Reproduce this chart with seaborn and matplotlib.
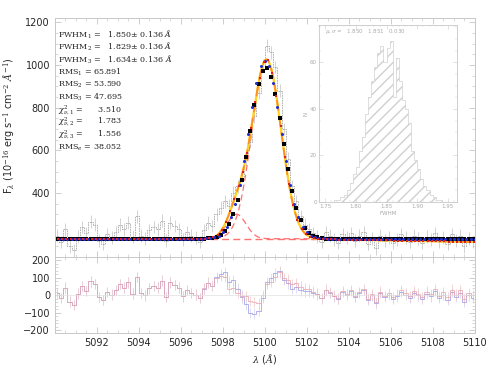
import numpy as np
import pandas as pd
import matplotlib
matplotlib.use("Agg")
import matplotlib.pyplot as plt
import seaborn as sns

# ---------------- data ----------------
wave_start = 5090.1
wave_step = 0.2
flux = [200, 170, 230, 150, 130, 195, 240, 210, 265, 250,
        175, 160, 205, 190, 215, 250, 230, 260, 195, 290,
        200, 185, 225, 240, 230, 270, 175, 260, 245, 230,
        180, 215, 200, 190, 170, 225, 260, 245, 300, 330,
        360, 340, 400, 430, 480, 560, 640, 760, 870, 1000,
        1090, 1060, 990, 880, 700, 560, 430, 360, 290, 250,
        230, 210, 195, 170, 215, 200, 180, 165, 205, 190,
        210, 175, 200, 215, 160, 185, 140, 200, 175, 190,
        165, 180, 205, 190, 170, 200, 185, 165, 195, 180,
        210, 170, 190, 160, 205, 175, 200, 150, 185, 170]
flux_err = [30] * len(flux)

# fit parameters (continuum, amplitude, centre, sigma)
fit1 = dict(cont=185, amp=800, cen=5100.05, sig=0.786)   # black squares
fit2 = dict(cont=185, amp=835, cen=5100.00, sig=0.777)   # blue
fit3_main = dict(cont=185, amp=840, cen=5100.08, sig=0.694)  # orange / yellow
fit3_blue_comp = dict(amp=115, cen=5098.65, sig=0.45)
fit3_slope = -1.8

hist_left = [1.750, 1.755, 1.760, 1.765, 1.770, 1.775, 1.780, 1.785, 1.790, 1.795,
             1.800, 1.805, 1.810, 1.815, 1.820, 1.825, 1.830, 1.835, 1.840, 1.845,
             1.850, 1.855, 1.860, 1.865, 1.870, 1.875, 1.880, 1.885, 1.890, 1.895,
             1.900, 1.905, 1.910, 1.915, 1.920, 1.925, 1.930, 1.935, 1.940, 1.945]
hist_counts = [0, 0, 0, 1, 1, 2, 3, 5, 8, 12,
               15, 22, 28, 38, 45, 52, 58, 64, 67, 60,
               66, 69, 45, 62, 52, 44, 40, 34, 22, 18,
               14, 10, 7, 5, 3, 2, 1, 1, 0, 0]

labels = [r"FWHM$_1$ =   1.850$\pm$ 0.136 $\AA$",
          r"FWHM$_2$ =   1.829$\pm$ 0.136 $\AA$",
          r"FWHM$_3$ =   1.634$\pm$ 0.136 $\AA$",
          r"RMS$_1$ = 65.891",
          r"RMS$_2$ = 53.590",
          r"RMS$_3$ = 47.695",
          r"$\chi^2_{\nu,1}$ =      3.510",
          r"$\chi^2_{\nu,2}$ =      1.783",
          r"$\chi^2_{\nu,3}$ =      1.556",
          r"RMS$_e$ = 38.052"]

# ---------------- build ----------------
wave = wave_start + wave_step * np.arange(len(flux))
flux = np.array(flux, float)
xf = np.linspace(5090, 5110, 400)

def g(x, p):
    return p["amp"] * np.exp(-0.5 * ((x - p["cen"]) / p["sig"]) ** 2)

def model1(x): return fit1["cont"] + g(x, fit1)
def model2(x): return fit2["cont"] + g(x, fit2)
def cont3(x): return fit3_main["cont"] + fit3_slope * np.clip(x - 5101.5, 0, None)
def model3(x): return cont3(x) + g(x, fit3_main) + g(x, fit3_blue_comp)

sns.set_style("ticks")
plt.rcParams["font.family"] = ["DejaVu Sans"]
plt.rcParams["mathtext.fontset"] = "dejavuserif"

fig = plt.figure(figsize=(4.9, 3.68), dpi=100)
ax = fig.add_axes([0.112, 0.302, 0.857, 0.649])
axr = fig.add_axes([0.112, 0.095, 0.857, 0.207], sharex=ax)
axi = fig.add_axes([0.651, 0.451, 0.282, 0.481])

# data
ax.errorbar(wave, flux, yerr=flux_err, fmt="none", ecolor="#c0c0c0", elinewidth=0.5, capsize=0)
sns.lineplot(x=wave, y=flux, ax=ax, color="#a8a8a8", lw=0.6, drawstyle="steps-mid", linestyle=(0, (2, 1)))

# red dashed components
ax.axhline(fit3_main["cont"], color="#ff7070", lw=1.0, ls=(0, (5, 3)))
sns.lineplot(x=xf, y=fit3_main["cont"] + g(xf, fit3_blue_comp), ax=ax, color="#ff7070", lw=0.9, linestyle=(0, (5, 3)))
sns.lineplot(x=xf, y=fit3_main["cont"] + g(xf, fit3_main), ax=ax, color="#ff7070", lw=0.9, linestyle=(0, (5, 3)))

# fits
sns.lineplot(x=xf, y=model3(xf), ax=ax, color="#ffd21f", lw=1.6)
sns.lineplot(x=xf, y=model3(xf), ax=ax, color="#ff9020", lw=1.3, linestyle=(0, (6, 3)))
xs = np.arange(5090.1, 5110, 0.2)
sns.lineplot(x=xs, y=model1(xs), ax=ax, color="black", lw=0, marker="s", markersize=3.2,
             markeredgewidth=0)
sns.lineplot(x=xs + 0.1, y=model2(xs + 0.1), ax=ax, color="#1f2fd0", lw=0, marker="o", markersize=2.2,
             markeredgewidth=0)
sns.lineplot(x=xs + 0.05, y=model3(xs + 0.05), ax=ax, color="#e02020", lw=0, marker="s", markersize=1.6,
             markeredgewidth=0)

ax.set_xlim(5090, 5110)
ax.set_ylim(100, 1220)
ax.set_yticks([400, 600, 800, 1000, 1200])
ax.set_xlabel("")
ax.set_ylabel(r"F$_\lambda$ (10$^{-16}$ erg s$^{-1}$ cm$^{-2}$ $\AA^{-1}$)", fontsize=7, labelpad=2)
ax.yaxis.set_label_coords(-0.09, 0.55)
ax.tick_params(labelbottom=False)

for i, t in enumerate(labels):
    ax.text(0.008, 0.93 - i * 0.0525, t, transform=ax.transAxes, fontsize=5.8,
            family="serif", va="center", ha="left")

# residuals
res3 = flux - model3(wave)
res2 = flux - model2(wave)
axr.errorbar(wave, res2, yerr=flux_err, fmt="none", ecolor="#d0d0f0", elinewidth=0.5)
axr.errorbar(wave, res3, yerr=flux_err, fmt="none", ecolor="#f0c8c8", elinewidth=0.5)
sns.lineplot(x=wave, y=res2, ax=axr, color="#a0a0e8", lw=0.7, drawstyle="steps-mid", alpha=0.8)
sns.lineplot(x=wave, y=res3, ax=axr, color="#e8a8b4", lw=0.7, drawstyle="steps-mid", alpha=0.8)
axr.axhline(0, color="#e0e0e0", lw=0.5)
axr.set_ylim(-215, 220)
axr.set_yticks([-200, -100, 0, 100, 200])
axr.set_xticks([5092, 5094, 5096, 5098, 5100, 5102, 5104, 5106, 5108, 5110])
axr.set_xlabel(r"$\lambda$ ($\AA$)", fontsize=7, labelpad=3)

for a in (ax, axr):
    a.minorticks_on()
    a.tick_params(which="both", direction="in", top=True, right=True, color="#bbbbbb", labelsize=7)
    a.tick_params(which="major", length=4, width=0.5)
    a.tick_params(which="minor", length=2, width=0.4)
    for s in a.spines.values():
        s.set_color("#c8c8c8")
        s.set_linewidth(0.7)

# inset histogram
edges = list(hist_left) + [hist_left[-1] + 0.005]
centers = [l + 0.0025 for l in hist_left]
sns.histplot(x=centers, weights=hist_counts, bins=edges, ax=axi, element="step",
             fill=True, color="#cfcfcf", alpha=1.0, lw=0.6)
for c in axi.collections:
    c.set_facecolor("none")
    c.set_hatch("///")
    c.set_edgecolor("#d0d0d0")
    c.set_linewidth(0.5)
axi.set_xlim(1.74, 1.965)
axi.set_ylim(0, 76)
axi.set_xticks([1.75, 1.80, 1.85, 1.90, 1.95])
axi.set_xticklabels(["1.75", "1.80", "1.85", "1.90", "1.95"])
axi.set_yticks([0, 20, 40, 60])
axi.set_xlabel("FWHM", fontsize=4, color="#aaaaaa", labelpad=1)
axi.set_ylabel("N", fontsize=4, color="#aaaaaa", labelpad=1)
axi.minorticks_on()
axi.tick_params(which="both", direction="in", top=True, right=True, color="#cccccc",
                labelsize=4, labelcolor="#aaaaaa", pad=1.5)
axi.tick_params(which="major", length=3, width=0.4)
axi.tick_params(which="minor", length=1.5, width=0.3)
for s in axi.spines.values():
    s.set_color("#c8c8c8")
    s.set_linewidth(0.6)
axi.text(0.04, 0.965, r"$\mu,\sigma$ =   1.850   1.851   0.030", transform=axi.transAxes,
         fontsize=4, color="#aaaaaa", va="center")
axi.set_facecolor("white")

fig.savefig("out.png", dpi=100)
